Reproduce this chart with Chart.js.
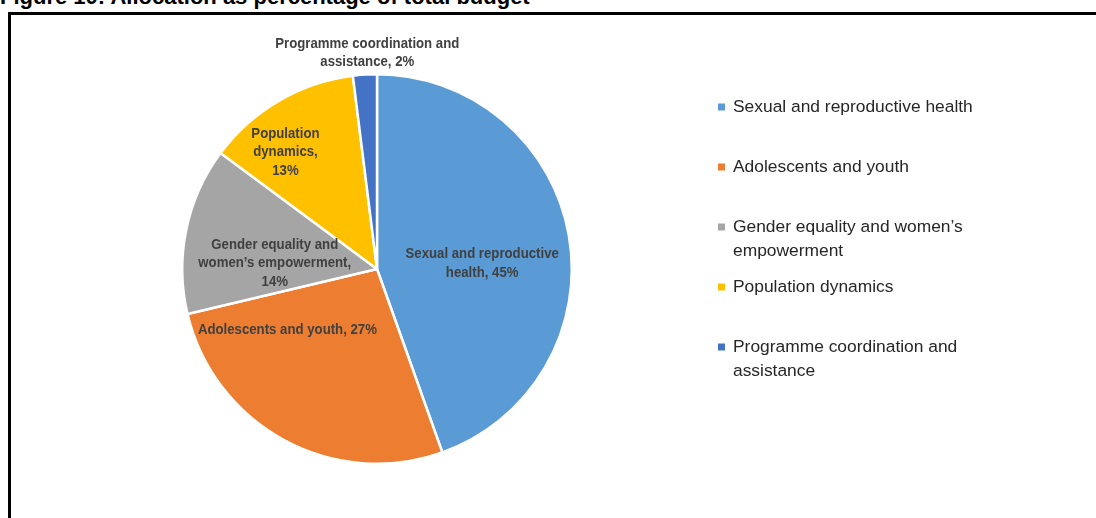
<!DOCTYPE html>
<html>
<head>
<meta charset="utf-8">
<title>Allocation as percentage of total budget</title>
<script src="https://cdn.jsdelivr.net/npm/chart.js@4.4.1/dist/chart.umd.min.js"></script>
<style>
  html, body { margin: 0; padding: 0; background: #fff; }
  #wrap { position: relative; width: 1096px; height: 518px; overflow: hidden; }
  #title {
    position: absolute; left: 0; top: -16px;
    font: bold 22px "Liberation Sans", Arial, sans-serif;
    color: #000; white-space: nowrap;
  }
  #frame {
    position: absolute; left: 8px; top: 12px;
    width: 1200px; height: 700px;
    border: 3px solid #000;
  }
  #chart { position: absolute; left: 0; top: 0; }
</style>
</head>
<body>
<div id="wrap">
  <div id="title">Figure 10: Allocation as percentage of total budget</div>
  <div id="frame"></div>
  <canvas id="chart" width="1096" height="518"></canvas>
</div>
<script>
// budget shares (%)
const categories = [
    'Sexual and reproductive health',
    'Adolescents and youth',
    'Gender equality and women\u2019s empowerment',
    'Population dynamics',
    'Programme coordination and assistance'
];
const shares = [45, 27, 14, 13, 2];
const sliceColors = ['#5B9BD5', '#ED7D31', '#A5A5A5', '#FFC000', '#4472C4'];

// where each slice label sits, in units of the pie radius, and how wide it may wrap
const labelSpots = [
    { dx: 0.54, dy: -0.03, wrap: 168 },
    { dx: -0.46, dy: 0.31, wrap: 220 },
    { dx: -0.525, dy: -0.03, wrap: 162 },
    { dx: -0.47, dy: -0.60, wrap: 80 },
    { dx: -0.05, dy: -1.11, wrap: 205 }
];

// labels use a squeezed bold face (narrow look)
const labelSqueeze = 0.88;

function wrapText(ctx, text, maxWidth, sx) {
    const words = text.split(' ');
    const lines = [];
    let line = '';
    words.forEach(w => {
        const test = line ? line + ' ' + w : w;
        if (line && ctx.measureText(test).width * sx > maxWidth) {
            lines.push(line);
            line = w;
        } else {
            line = test;
        }
    });
    if (line) lines.push(line);
    return lines;
}

// slice labels: "name, value%"
const sliceLabels = {
    id: 'sliceLabels',
    afterDatasetsDraw(chart) {
        const ctx = chart.ctx;
        const meta = chart.getDatasetMeta(0);
        ctx.save();
        ctx.font = 'bold 15px "Liberation Sans", Arial, sans-serif';
        ctx.fillStyle = '#404040';
        ctx.textAlign = 'center';
        ctx.textBaseline = 'middle';
        meta.data.forEach((arc, i) => {
            const spot = labelSpots[i];
            const r = arc.outerRadius;
            const x = arc.x + spot.dx * r;
            const y = arc.y + spot.dy * r;
            const lines = wrapText(ctx, categories[i] + ', ' + shares[i] + '%', spot.wrap, labelSqueeze);
            const lh = 18.5;
            const top = -(lines.length - 1) * lh / 2;
            ctx.save();
            ctx.translate(x, y);
            ctx.scale(labelSqueeze, 1);
            lines.forEach((ln, k) => ctx.fillText(ln, 0, top + k * lh));
            ctx.restore();
        });
        ctx.restore();
    }
};

// legend on the right, evenly spaced entries that wrap long names
const sideLegend = {
    id: 'sideLegend',
    afterDraw(chart) {
        const ctx = chart.ctx;
        const left = 733, firstY = 107, step = 60, lineH = 24;
        ctx.save();
        ctx.font = '17.4px "Liberation Sans", Arial, sans-serif';
        ctx.textBaseline = 'middle';
        ctx.textAlign = 'left';
        categories.forEach((name, i) => {
            const y = firstY + i * step;
            ctx.fillStyle = sliceColors[i];
            ctx.fillRect(left - 15, y - 3.5, 7, 7);
            ctx.fillStyle = '#262626';
            wrapText(ctx, name, 250, 1).forEach((ln, k) => ctx.fillText(ln, left, y + k * lineH));
        });
        ctx.restore();
    }
};

const pieCanvas = document.getElementById('chart');

new Chart(pieCanvas, {
    type: 'pie',
    data: {
        labels: categories,
        datasets: [{
            data: shares,
            backgroundColor: sliceColors,
            borderColor: '#ffffff',
            borderWidth: 2.5
        }]
    },
    options: {
        responsive: false,
        animation: false,
        layout: {
            padding: { left: 181, right: 523, top: 73, bottom: 53 }
        },
        plugins: {
            legend: { display: false },
            tooltip: { enabled: false }
        }
    },
    plugins: [sliceLabels, sideLegend]
});
</script>
</body>
</html>
